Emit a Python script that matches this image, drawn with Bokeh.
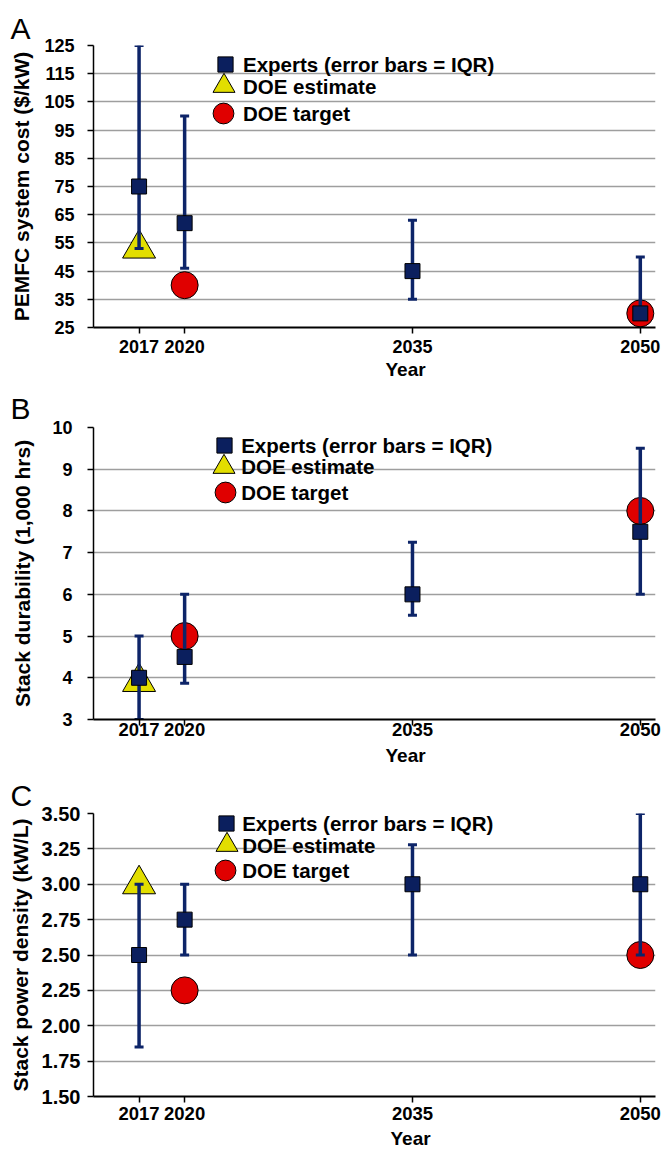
import math
from bokeh.plotting import figure
from bokeh.layouts import column
from bokeh.models import (Range1d, FixedTicker, Legend, LegendItem, Label, Title,
                          NumeralTickFormatter)
from bokeh.embed import file_html
from bokeh.resources import INLINE

# ---------------- data ----------------
years = [2017, 2020, 2035, 2050]
year_ticks = [2017, 2020, 2035, 2050]
legend_labels = ["Experts (error bars = IQR)", "DOE estimate", "DOE target"]

# Panel A: PEMFC system cost ($/kW)
cost_median = [75, 62, 45, 30]
cost_q1 = [53, 46, 35, 30]
cost_q3 = [125, 100, 63, 50]
cost_est_years = [2017]
cost_est = [53]
cost_target_years = [2020, 2050]
cost_target = [40, 30]
cost_ticks = [25, 35, 45, 55, 65, 75, 85, 95, 105, 115, 125]

# Panel B: Stack durability (1,000 hrs)
dur_median = [4, 4.5, 6, 7.5]
dur_q1 = [3, 3.87, 5.5, 6]
dur_q3 = [5, 6, 7.25, 9.5]
dur_est_years = [2017]
dur_est = [3.9]
dur_target_years = [2020, 2050]
dur_target = [5, 8]
dur_ticks = [3, 4, 5, 6, 7, 8, 9, 10]

# Panel C: Stack power density (kW/L)
pd_median = [2.5, 2.75, 3.0, 3.0]
pd_q1 = [1.85, 2.5, 2.5, 2.5]
pd_q3 = [3.0, 3.0, 3.28, 3.5]
pd_est_years = [2017]
pd_est = [3.0]
pd_target_years = [2020, 2050]
pd_target = [2.25, 2.5]
pd_ticks = [1.5, 1.75, 2.0, 2.25, 2.5, 2.75, 3.0, 3.25, 3.5]

# ---------------- style ----------------
FONT = "Liberation Sans"
NAVY = "#0B1F5E"
BAR = "#0D2468"
RED = "#E00000"
YELLOW = "#E2DE00"
GRID = "#9E9E9E"
LEFT = 93


def build(cfg):
    p = figure(frame_width=562, frame_height=cfg["fh"],
               min_border_left=LEFT, min_border_right=7,
               min_border_top=cfg["bt"], min_border_bottom=cfg["bb"],
               x_range=Range1d(2014, 2051),
               y_range=Range1d(cfg["ticks"][0], cfg["ticks"][-1]),
               output_backend="svg", toolbar_location=None, tools="")
    p.outline_line_color = None
    p.background_fill_color = "white"
    p.border_fill_color = "white"
    p.xgrid.visible = False
    p.ygrid.grid_line_color = GRID
    p.ygrid.grid_line_width = 1.5
    p.ygrid.ticker = FixedTicker(ticks=cfg["ticks"])

    # panel letter as title
    p.title.text = cfg["letter"]
    p.title.align = "left"
    p.title.offset = -83
    p.title.text_font = FONT
    p.title.text_font_style = "normal"
    p.title.text_font_size = "30px"
    p.title.text_color = "black"
    p.title.standoff = cfg["lstand"]

    yax = p.yaxis[0]
    yax.ticker = FixedTicker(ticks=cfg["ticks"])
    if cfg.get("fmt"):
        yax.formatter = NumeralTickFormatter(format=cfg["fmt"])
    yax.axis_line_color = "black"
    yax.axis_line_width = 1.5
    yax.major_tick_line_color = "black"
    yax.major_tick_line_width = 1.5
    yax.major_tick_out = 6
    yax.major_tick_in = 0
    yax.minor_tick_line_color = None
    yax.major_label_standoff = cfg["ystand"]
    yax.major_label_text_font = FONT
    yax.major_label_text_font_style = "bold"
    yax.major_label_text_font_size = cfg["ytfs"]
    yax.major_label_text_color = "black"
    yax.axis_label = cfg["ytitle"]
    yax.axis_label_standoff = cfg["ylstand"]
    yax.axis_label_text_font = FONT
    yax.axis_label_text_font_style = "bold"
    yax.axis_label_text_font_size = "21px"
    yax.axis_label_text_color = "black"

    xax = p.xaxis[0]
    xax.ticker = FixedTicker(ticks=year_ticks)
    xax.axis_line_color = "black"
    xax.axis_line_width = 2
    xax.major_tick_line_color = "black"
    xax.major_tick_line_width = 1.5
    xax.major_tick_out = 6
    xax.major_tick_in = 0
    xax.minor_tick_line_color = None
    xax.major_label_standoff = cfg["xstand"]
    xax.major_label_text_font = FONT
    xax.major_label_text_font_style = "bold"
    xax.major_label_text_font_size = cfg["xtfs"]
    xax.major_label_text_color = "black"

    # x axis title, placed off-centre like the reference
    p.add_layout(Title(text="Year", align="left", offset=cfg["year_off"],
                       standoff=cfg["year_stand"], vertical_align="top",
                       text_font=FONT, text_font_style="bold",
                       text_font_size="19px", text_color="black"), "below")

    est = p.scatter(cfg["est_x"], cfg["est_y"], marker="triangle", size=33,
                    fill_color=YELLOW, line_color="black", line_width=1)
    tgt = p.scatter(cfg["tgt_x"], cfg["tgt_y"], marker="circle", size=27,
                    fill_color=RED, line_color="black", line_width=1)
    p.segment(x0=years, y0=cfg["q1"], x1=years, y1=cfg["q3"],
              line_color=BAR, line_width=3.5)
    p.scatter(years, cfg["q1"], marker="dash", size=9, line_color=BAR, line_width=3)
    p.scatter(years, cfg["q3"], marker="dash", size=9, line_color=BAR, line_width=3)
    exp = p.scatter(years, cfg["med"], marker="square", size=15,
                    fill_color=NAVY, line_color="black", line_width=1)

    # legend: one glyph-only Legend per entry (own symbol size) + text labels
    tx = cfg["leg_text_x"]
    for rend, label, (cx, cy), g in zip([exp, est, tgt], legend_labels,
                                        cfg["leg_pos"], [38, 55, 52]):
        leg = Legend(items=[LegendItem(label=" ", renderers=[rend])],
                     location=(cx - g / 2, cy - g / 2),
                     glyph_width=g, glyph_height=g, label_height=g,
                     label_standoff=0, padding=0, margin=0, spacing=0,
                     border_line_alpha=0, background_fill_alpha=0,
                     label_text_font_size="8px")
        p.add_layout(leg)
        p.add_layout(Label(x=tx, y=cy, x_units="screen", y_units="screen",
                           text=label, text_font=FONT, text_font_style="bold",
                           text_font_size="20.5px", text_color="black",
                           text_baseline="middle"))
    return p


pa = build(dict(fh=282, bt=45, bb=58, ticks=cost_ticks, lstand=2,
                ystand=13, ytfs="18px", xstand=6, xtfs="18px",
                ytitle="PEMFC system cost ($/kW)", ylstand=8,
                year_off=292, year_stand=7,
                est_x=cost_est_years, est_y=cost_est,
                tgt_x=cost_target_years, tgt_y=cost_target,
                q1=cost_q1, q3=cost_q3, med=cost_median,
                leg_text_x=149.5,
                leg_pos=[(131.5, 263), (130, 241.5), (130, 214)],
                letter="A"))

pb = build(dict(fh=292, bt=42, bb=54, ticks=dur_ticks, lstand=6,
                ystand=15, ytfs="18px", xstand=-3, xtfs="18.5px",
                ytitle="Stack durability (1,000 hrs)", ylstand=15,
                year_off=292, year_stand=12,
                est_x=dur_est_years, est_y=dur_est,
                tgt_x=dur_target_years, tgt_y=dur_target,
                q1=dur_q1, q3=dur_q3, med=dur_median,
                leg_text_x=147.7,
                leg_pos=[(131, 274), (130.3, 253), (132, 227)],
                letter="B"))

pc = build(dict(fh=283, bt=40, bb=59, ticks=pd_ticks, fmt="0.00", lstand=4,
                ystand=7, ytfs="20px", xstand=4, xtfs="18.5px",
                ytitle="Stack power density (kW/L)", ylstand=7,
                year_off=297, year_stand=10,
                est_x=pd_est_years, est_y=pd_est,
                tgt_x=pd_target_years, tgt_y=pd_target,
                q1=pd_q1, q3=pd_q3, med=pd_median,
                leg_text_x=148.7,
                leg_pos=[(132.8, 272.7), (133, 251.5), (132, 226)],
                letter="C"))

layout = column(pa, pb, pc, spacing=0)
open("out.html", "w").write(file_html(layout, INLINE))
